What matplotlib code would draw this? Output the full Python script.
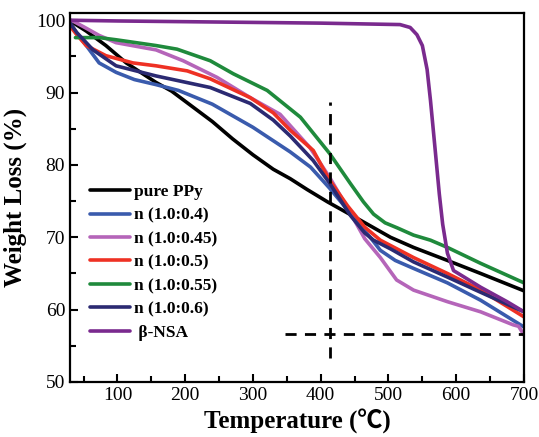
import matplotlib
matplotlib.use("Agg")
import matplotlib.pyplot as plt
from matplotlib.ticker import MultipleLocator

# ---- data ----
T_ppy = [30, 34, 54, 83, 113, 157, 180, 200, 240, 270, 300, 330, 355, 380, 410, 454, 503, 537, 587, 636, 700]
W_ppy = [100, 99.7, 98.5, 96.5, 94.1, 91.4, 90.2, 88.8, 86.0, 83.6, 81.4, 79.4, 78.1, 76.6, 74.9, 72.6, 70.0, 68.6, 66.8, 65.0, 62.6]

T_04 = [30, 40, 54, 73, 98, 125, 157, 190, 240, 300, 355, 385, 413, 444, 473, 488, 510, 537, 587, 636, 700]
W_04 = [99.6, 98.2, 96.5, 94.1, 92.8, 91.8, 91.1, 90.3, 88.4, 85.2, 81.8, 79.7, 76.8, 73.3, 70.0, 68.2, 66.8, 65.7, 63.7, 61.3, 57.6]

T_045 = [30, 34, 50, 73, 98, 157, 197, 247, 296, 340, 384, 413, 440, 465, 488, 512, 537, 587, 636, 684, 692, 700]
W_045 = [100, 99.9, 99.1, 97.9, 96.9, 95.9, 94.4, 92.1, 89.3, 87.0, 82.4, 78.3, 74.0, 69.8, 67.2, 64.1, 62.7, 61.1, 59.7, 57.9, 57.7, 56.5]

T_05 = [30, 40, 54, 83, 123, 157, 203, 237, 296, 330, 355, 389, 413, 440, 465, 488, 537, 587, 636, 700]
W_05 = [99.2, 98.0, 96.5, 95.1, 94.1, 93.7, 93.0, 91.9, 89.3, 87.2, 84.8, 82.0, 77.9, 74.3, 71.4, 69.6, 67.2, 65.0, 62.7, 59.0]

T_055 = [38, 73, 98, 157, 188, 237, 271, 321, 370, 413, 444, 463, 478, 495, 513, 537, 562, 587, 636, 700]
W_055 = [97.6, 97.6, 97.3, 96.5, 96.0, 94.4, 92.6, 90.3, 86.6, 81.6, 77.4, 74.9, 73.2, 72.0, 71.3, 70.3, 69.6, 68.6, 66.4, 63.7]

T_06 = [30, 40, 64, 98, 157, 237, 296, 330, 355, 389, 413, 444, 465, 478, 503, 537, 587, 636, 700]
W_06 = [99.6, 98.3, 95.9, 93.7, 92.3, 90.7, 88.5, 86.2, 84.0, 80.6, 77.5, 73.0, 70.6, 69.6, 68.4, 66.6, 64.5, 62.4, 59.7]

T_nsa = [30, 100, 200, 300, 400, 517, 532, 542, 550, 557, 562, 569, 575, 580, 587, 596, 610, 636, 675, 700]
W_nsa = [100, 99.9, 99.8, 99.7, 99.6, 99.4, 99.0, 98.0, 96.5, 93.2, 88.9, 82.0, 76.0, 71.8, 67.8, 65.4, 64.6, 63.1, 61.1, 59.7]

labels = ["pure PPy", "n (1.0:0.4)", "n (1.0:0.45)", "n (1.0:0.5)", "n (1.0:0.55)", "n (1.0:0.6)", " β-NSA"]
colors = ["#000000", "#3a5bad", "#b565b9", "#ee3124", "#1f8a3c", "#2b2a72", "#7a2a8e"]

# dashed guide lines
vline_T = 413
vline_W = [53.3, 88.7]
hline_W = 56.7
hline_T = [348, 700]

x_ticks = [100, 200, 300, 400, 500, 600, 700]
y_ticks = [50, 60, 70, 80, 90, 100]

# ---- figure ----
plt.rcParams['font.family'] = ['Liberation Serif', 'Noto Sans CJK SC', 'DejaVu Sans']
fig = plt.figure(figsize=(5.39, 4.37), dpi=100)
ax = fig.add_axes([70/539, 1-382/437, 454/539, 369/437])

series = [(T_ppy, W_ppy), (T_04, W_04), (T_045, W_045), (T_05, W_05),
          (T_055, W_055), (T_06, W_06), (T_nsa, W_nsa)]
for (t, w), lab, c in zip(series, labels, colors):
    ax.plot(t, w, color=c, lw=2.6, label=lab, solid_joinstyle='round', solid_capstyle='round')

ax.plot([vline_T, vline_T], vline_W, color='black', lw=2, ls=(0, (4, 3)))
ax.plot(hline_T, [hline_W, hline_W], color='black', lw=2, ls=(0, (4, 3)))

ax.set_xlim(30, 700)
ax.set_ylim(50, 101)
ax.set_xticks(x_ticks)
ax.set_yticks(y_ticks)
ax.xaxis.set_minor_locator(MultipleLocator(50))
ax.yaxis.set_minor_locator(MultipleLocator(5))
ax.tick_params(which='both', direction='in', top=False, right=False, width=1.5, labelsize=14)
ax.tick_params(which='major', length=6)
ax.tick_params(which='minor', length=4)
for s in ax.spines.values():
    s.set_linewidth(1.6)

ax.set_xlabel("Temperature (℃)", fontsize=18, fontweight='bold', labelpad=4)
ax.set_ylabel("Weight Loss (%)", fontsize=18, fontweight='bold', labelpad=6)

leg = ax.legend(loc='upper left', bbox_to_anchor=((90-70)/454, (382-184)/369),
                frameon=False, prop={'weight': 'bold', 'size': 12.5},
                handlelength=2.3, handletextpad=0.25, labelspacing=0.42,
                borderpad=0, borderaxespad=0)

fig.savefig("out.png", dpi=100)
